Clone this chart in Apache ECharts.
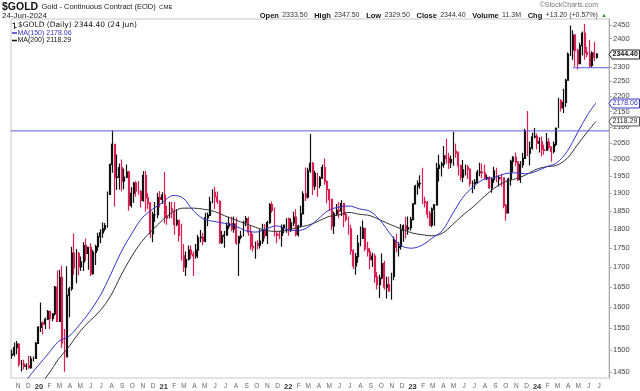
<!DOCTYPE html>
<html><head><meta charset="utf-8">
<script src="https://cdn.jsdelivr.net/npm/echarts@6/dist/echarts.min.js"></script>
<style>html,body{margin:0;padding:0;background:#fff}#c{width:640px;height:391px}</style>
</head><body><div id="c"></div>
<script>
// ---- data (weekly bars), [open, close, low, high]
const firstWeekMonday = [2019, 9, 14]; // 14 Oct 2019
const ohlc = [
[1488,1490,1480,1500],[1490,1505,1485,1517],[1505,1513,1490,1520],[1513,1468,1462,1515],[1468,1468,1452,1477],[1468,1463,1456,1478],[1463,1464,1455,1470],[1464,1460,1458,1487],[1460,1480,1458,1486],[1480,1481,1474,1485],[1481,1515,1480,1518],[1515,1552,1514,1555],
[1552,1562,1541,1611],[1562,1560,1536,1566],[1560,1571,1548,1575],[1571,1589,1569,1593],[1589,1573,1548,1592],[1573,1584,1566,1586],[1584,1649,1580,1652],[1649,1566,1565,1691],[1566,1673,1565,1693],[1673,1516,1504,1703],[1516,1484,1451,1548],[1484,1629,1484,1702],[1629,1645,1576,1650],[1645,1736,1640,1753],[1736,1698,1680,1788],[1698,1735,1659,1747],[1735,1700,1679,1739],[1700,1713,1690,1727],[1713,1756,1690,1765],[1756,1735,1716,1775],[1735,1751,1693,1752],[1751,1683,1677,1762],[1683,1738,1680,1745],[1738,1753,1705,1758],[1753,1780,1742,1790],[1780,1790,1762,1800],[1790,1801,1777,1818],[1801,1810,1794,1817],[1810,1897,1804,1905],[1897,1985,1895,1986],[1985,2046,1960,2089],[2046,1946,1863,2048],[1946,1947,1910,2015],[1947,1975,1911,1988],[1975,1935,1906,2000],[1935,1947,1912,1973],[1947,1962,1944,1985],[1962,1866,1851,1966],[1866,1900,1860,1918],[1900,1930,1873,1933],[1930,1906,1890,1935],[1906,1905,1896,1936],[1905,1880,1860,1910],[1880,1952,1876,1965],[1952,1887,1848,1965],[1887,1872,1856,1900],[1872,1788,1776,1875],[1788,1840,1765,1848],[1840,1840,1820,1875],[1840,1888,1830,1902],[1888,1883,1860,1907],[1883,1895,1870,1903],
[1895,1835,1816,1962],[1835,1830,1812,1865],[1830,1856,1830,1876],[1856,1850,1830,1875],[1850,1813,1785,1875],[1813,1824,1808,1855],[1824,1783,1767,1826],[1783,1729,1717,1815],[1729,1700,1687,1760],[1700,1720,1677,1740],[1720,1744,1717,1756],[1744,1733,1721,1756],[1733,1729,1677,1740],[1729,1744,1721,1760],[1744,1777,1723,1785],[1777,1778,1765,1798],[1778,1768,1757,1790],[1768,1831,1765,1845],[1831,1838,1808,1846],[1838,1876,1836,1890],[1876,1903,1872,1912],[1903,1890,1855,1919],[1890,1877,1870,1905],[1877,1764,1761,1880],[1764,1781,1760,1795],[1781,1784,1750,1795],[1784,1808,1784,1818],[1808,1815,1800,1834],[1815,1801,1794,1834],[1801,1814,1790,1835],[1814,1763,1758,1832],[1763,1779,1677,1782],[1779,1781,1773,1796],[1781,1819,1780,1823],[1819,1829,1808,1836],[1829,1792,1782,1834],[1792,1754,1745,1810],[1754,1750,1740,1787],[1750,1761,1721,1767],[1761,1757,1746,1770],[1757,1768,1748,1800],[1768,1796,1760,1815],[1796,1783,1775,1814],[1783,1818,1760,1823],[1818,1868,1815,1872],[1868,1852,1845,1877],[1852,1788,1780,1860],[1788,1784,1762,1795],[1784,1783,1773,1795],[1783,1805,1753,1813],[1805,1811,1789,1813],[1811,1829,1790,1830],
[1829,1797,1782,1832],[1797,1817,1792,1829],[1817,1833,1808,1848],[1833,1785,1780,1855],[1785,1808,1780,1812],[1808,1842,1805,1865],[1842,1898,1840,1906],[1898,1889,1878,1976],[1889,1966,1885,1975],[1966,1988,1960,2078],[1988,1921,1895,1992],[1921,1958,1910,1966],[1958,1923,1890,1960],[1923,1945,1915,1950],[1945,1975,1942,1985],[1975,1934,1925,2003],[1934,1911,1872,1938],[1911,1882,1850,1911],[1882,1809,1797,1885],[1809,1842,1787,1848],[1842,1852,1836,1870],[1852,1850,1830,1875],[1850,1871,1836,1880],[1871,1840,1805,1871],[1840,1827,1820,1848],[1827,1801,1785,1835],[1801,1742,1732,1812],[1742,1703,1695,1746],[1703,1727,1680,1736],[1727,1762,1711,1784],[1762,1775,1754,1807],[1775,1802,1775,1824],[1802,1747,1741,1802],[1747,1740,1727,1766],[1740,1719,1694,1750],[1719,1728,1700,1737],[1728,1675,1660,1735],[1675,1655,1643,1688],[1655,1672,1622,1680],[1672,1709,1669,1735],[1709,1649,1643,1716],[1649,1655,1621,1675],[1655,1640,1637,1676],[1640,1676,1618,1685],[1676,1769,1666,1780],[1769,1751,1738,1787],[1751,1754,1727,1765],[1754,1797,1745,1814],[1797,1810,1766,1813],[1810,1800,1775,1833],[1800,1804,1785,1835],[1804,1826,1796,1834],
[1826,1870,1825,1871],[1870,1921,1868,1925],[1921,1928,1896,1937],[1928,1929,1913,1953],[1929,1877,1870,1975],[1877,1874,1860,1890],[1874,1842,1829,1878],[1842,1811,1808,1850],[1811,1855,1805,1860],[1855,1867,1809,1870],[1867,1973,1865,1990],[1973,1983,1934,2014],[1983,1986,1949,1993],[1986,2011,1975,2041],[2011,2003,1988,2063],[2003,1990,1971,2020],[1990,1999,1974,2012],[1999,2025,1981,2085],[2025,2020,2005,2048],[2020,1981,1952,2024],[1981,1947,1937,1985],[1947,1969,1932,1998],[1969,1977,1952,1985],[1977,1971,1942,1983],[1971,1929,1920,1972],[1929,1929,1900,1937],[1929,1932,1912,1942],[1932,1961,1928,1968],[1961,1962,1950,1990],[1962,1960,1944,1988],[1960,1943,1940,1985],[1943,1946,1938,1955],[1946,1916,1913,1950],[1916,1940,1902,1945],[1940,1966,1930,1978],[1966,1942,1932,1975],[1942,1946,1920,1953],[1946,1945,1920,1957],[1945,1866,1858,1946],[1866,1845,1823,1870],[1845,1941,1845,1945],[1941,1994,1922,1999],[1994,2006,1962,2010],[2006,1992,1980,2021],[1992,1940,1935,1995],[1940,1984,1930,1995],[1984,2003,1975,2020],[2003,2089,2001,2095],[2089,2019,2010,2152],[2019,2035,1982,2055],[2035,2069,2030,2082],[2069,2071,2064,2097],
[2071,2050,2030,2080],[2050,2054,2021,2068],[2054,2030,2009,2070],[2030,2027,2014,2045],[2027,2053,2027,2081],[2053,2038,2030,2066],[2038,2024,1993,2040],[2024,2046,2018,2055],[2046,2096,2040,2099],[2096,2186,2096,2195],[2186,2162,2150,2190],[2162,2180,2145,2225],[2180,2254,2165,2259],[2254,2345,2254,2350],[2345,2360,2338,2448],[2360,2413,2325,2431],[2413,2357,2300,2416],[2357,2311,2291,2364],[2311,2375,2310,2385],[2375,2419,2340,2426],[2419,2350,2325,2454],[2350,2345,2334,2370],[2345,2305,2298,2395],[2305,2349,2296,2355],[2349,2334,2320,2388],[2333.5,2344.4,2329.5,2347.5]
];
// moving averages read at month ends, starting Oct 2019 (MA150) / Nov 2019 (MA200), plus last day
const ma150 = [1409,1436,1464,1492,1519,1531,1557,1589,1627,1680,1739,1786,1830,1854,1874,1894,1887,1851,1828,1821,1816,1809,1796,1792,1801,1809,1799,1796,1804,1827,1851,1861,1864,1856,1849,1824,1785,1756,1749,1757,1775,1796,1842,1889,1919,1941,1946,1957,1960,1957,1964,1978,1989,2024,2081,2141];
const ma200 = [1393,1418,1446,1479,1507,1540,1567,1591,1627,1679,1726,1767,1797,1825,1848,1858,1858,1855,1849,1837,1826,1815,1805,1796,1794,1797,1805,1810,1821,1834,1839,1846,1841,1837,1825,1812,1801,1790,1785,1782,1789,1812,1839,1862,1890,1915,1933,1942,1953,1970,1978,1982,2003,2044,2087];
const lastDay = [2024, 5, 24];
const lastMA150 = 2178.06, lastMA200 = 2118.29, lastClose = 2344.40;
const levelLine = 2088, supportLine = 2297, supportFrom = [2024, 3, 17];
const yTicks = [1450,1500,1550,1600,1650,1700,1750,1800,1850,1900,1950,2000,2050,2100,2150,2200,2250,2300,2350,2400,2450];
const monthLetters = ['J','F','M','A','M','J','J','A','S','O','N','D'];

const DAY = 864e5;
const t0 = Date.UTC(...firstWeekMonday);
const candles = ohlc.map((d, i) => [t0 + (i * 7 + 2) * DAY, d[0], d[1], d[2], d[3]]);
const ma150Data = ma150.map((v, k) => [Date.UTC(2019, 10 + k, 0), v]);
ma150Data.push([Date.UTC(...lastDay), lastMA150]);
const ma200Data = ma200.map((v, k) => [Date.UTC(2019, 11 + k, 0), v]);
ma200Data.push([Date.UTC(...lastDay), lastMA200]);
const monthTicks = [];
for (let k = 0; k <= 56; k++) monthTicks.push(Date.UTC(2019, 10 + k, 1) + 2 * DAY);
const xMin = Date.UTC(2019, 9, 13), xMax = Date.UTC(2024, 7, 1);
const yMin = 1437.6, yMax = 2472.4;

const FONT = "'Liberation Sans', Arial, sans-serif";
const RED = '#dc1f55', BLK = '#111111', BLUE = '#3434c4', LINEBLUE = '#5c5ce6';

const chart = echarts.init(document.getElementById('c'));
chart.setOption({
  animation: false,
  backgroundColor: '#fff',
  grid: { left: 11, right: 31, top: 19, bottom: 13, show: true, borderColor: '#c8c8c8', borderWidth: 1 },
  xAxis: {
    type: 'value', min: xMin, max: xMax,
    axisLine: { show: false }, axisTick: { show: false }, splitLine: { show: false },
    axisLabel: {
      customValues: monthTicks, hideOverlap: false, margin: 5, showMinLabel: true, showMaxLabel: true,
      fontFamily: FONT, fontSize: 6.5, color: '#666',
      formatter: v => { const d = new Date(v); const m = d.getUTCMonth();
        return m === 0 ? '{y|' + String(d.getUTCFullYear()).slice(2) + '}' : monthLetters[m]; },
      rich: { y: { fontFamily: FONT, fontSize: 7.5, fontWeight: 'bold', color: '#333' } }
    }
  },
  yAxis: {
    type: 'log', logBase: 10, min: yMin, max: yMax, position: 'right',
    axisLine: { show: true, lineStyle: { color: '#aaa' } },
    axisTick: { show: true, length: 3, customValues: yTicks, lineStyle: { color: '#aaa' } },
    axisLabel: { customValues: yTicks, margin: 4, fontFamily: FONT, fontSize: 7.5, color: '#444',
      formatter: v => String(Math.round(v)) },
    splitLine: { show: false }
  },
  series: [
    { type: 'candlestick', data: candles, encode: { x: 0, y: [1, 2, 3, 4] }, z: 2,
      barWidth: 1.4, itemStyle: { color: BLK, color0: RED, borderColor: BLK, borderColor0: RED, borderWidth: 1.2 } },
    { type: 'line', data: ma200Data, showSymbol: false, smooth: 0.35, lineStyle: { color: '#333', width: 1 }, z: 3 },
    { type: 'line', data: ma150Data, showSymbol: false, smooth: 0.35, lineStyle: { color: BLUE, width: 1 }, z: 3 },
    { type: 'line', data: [[xMin, levelLine], [xMax, levelLine]], showSymbol: false, silent: true,
      lineStyle: { color: LINEBLUE, width: 1 }, z: 4 },
    { type: 'line', data: [[Date.UTC(...supportFrom), supportLine], [xMax, supportLine]], showSymbol: false, silent: true,
      lineStyle: { color: LINEBLUE, width: 1 }, z: 4 }
  ]
});

function box(v, stroke, textColor, bold) {
  const y = Math.round(chart.convertToPixel({ yAxisIndex: 0 }, v)) + 0.5;
  return [
    { type: 'polygon', z: 100, shape: { points: [[609, y], [612, y - 4.5], [639.5, y - 4.5], [639.5, y + 4.5], [612, y + 4.5]] },
      style: { fill: '#fff', stroke: stroke, lineWidth: 1 } },
    { type: 'text', z: 101, x: 612.5, y: y, style: { text: v.toFixed(2), font: (bold ? 'bold ' : '') + '7px ' + FONT,
      fill: textColor, textVerticalAlign: 'middle' } }
  ];
}
const g = [
  { type: 'text', x: 2, y: 7, style: { text: '{b|$GOLD} {n|Gold - Continuous Contract (EOD)} {s|CME}', textVerticalAlign: 'middle',
    rich: { b: { font: 'bold 10.5px ' + FONT, fill: '#111' }, n: { font: '7.5px ' + FONT, fill: '#222' }, s: { font: '6px ' + FONT, fill: '#222' } } } },
  { type: 'text', x: 2, y: 15.5, style: { text: '24-Jun-2024', font: '8px ' + FONT, fill: '#222', textVerticalAlign: 'middle' } },
  { type: 'text', x: 598, y: 5, style: { text: '©StockCharts.com', font: '7px ' + FONT, fill: '#777', textAlign: 'right', textVerticalAlign: 'middle' } },
  { type: 'text', x: 607, y: 15.5, style: {
    text: '{k|Open} {v|2333.50}  {k|High} {v|2347.50}  {k|Low} {v|2329.50}  {k|Close} {v|2344.40}  {k|Volume} {v|11.3M}  {k|Chg} {v|+13.20 (+0.57%)} {g|▲}',
    textAlign: 'right', textVerticalAlign: 'middle',
    rich: { k: { font: 'bold 7.5px ' + FONT, fill: '#111' }, v: { font: '7px ' + FONT, fill: '#333' }, g: { font: '6px ' + FONT, fill: '#2a9a2a' } } } },
  // legend
  { type: 'line', shape: { x1: 14.5, y1: 22.5, x2: 14.5, y2: 29 }, style: { stroke: '#333', lineWidth: 1 } },
  { type: 'line', shape: { x1: 12.5, y1: 23.5, x2: 14.5, y2: 23.5 }, style: { stroke: '#333', lineWidth: 1 } },
  { type: 'line', shape: { x1: 14.5, y1: 27.5, x2: 16.5, y2: 27.5 }, style: { stroke: '#333', lineWidth: 1 } },
  { type: 'text', x: 18, y: 25.5, style: { text: '$GOLD (Daily) 2344.40 (24 Jun)', font: "7.5px 'DejaVu Sans', sans-serif", fill: '#111', textVerticalAlign: 'middle' } },
  { type: 'line', shape: { x1: 12, y1: 33, x2: 17, y2: 33 }, style: { stroke: BLUE, lineWidth: 1.5 } },
  { type: 'text', x: 17.5, y: 33, style: { text: 'MA(150) ' + lastMA150.toFixed(2), font: '7px ' + FONT, fill: BLUE, textVerticalAlign: 'middle' } },
  { type: 'line', shape: { x1: 12, y1: 40.5, x2: 17, y2: 40.5 }, style: { stroke: '#111', lineWidth: 1.5 } },
  { type: 'text', x: 17.5, y: 40.5, style: { text: 'MA(200) ' + lastMA200.toFixed(2), font: '7px ' + FONT, fill: '#111', textVerticalAlign: 'middle' } }
].concat(box(lastClose, '#222', '#111', true), box(lastMA150, BLUE, BLUE, false), box(lastMA200, '#555', '#222', false));
chart.setOption({ graphic: { elements: g } });
</script></body></html>
